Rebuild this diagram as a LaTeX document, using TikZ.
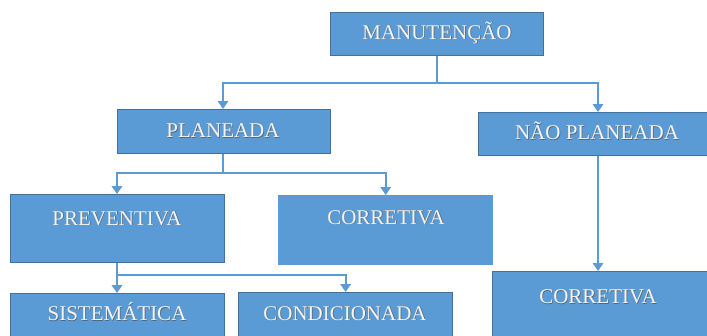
\documentclass[tikz,border=0pt]{standalone}
\usepackage{fontspec}
\setmainfont{Liberation Serif}
\usetikzlibrary{arrows.meta,calc}
\definecolor{boxfill}{HTML}{5B9BD5}
\definecolor{boxline}{HTML}{41719C}
\definecolor{txtshade}{HTML}{5A6470}
% white lettering with a faint dark offset shadow
\newcommand\embossed[1]{\makebox[0pt][l]{\raisebox{-0.7pt}{\hspace{0.7pt}\textcolor{txtshade}{#1}}}\textcolor{white!92!gray}{#1}}
\begin{document}
\begin{tikzpicture}[x=1pt,y=1pt,
  box/.style={draw=boxline,line width=1.2pt,fill=boxfill,inner sep=0pt,anchor=north west},
  plainbox/.style={fill=boxfill,inner sep=0pt,anchor=north west},
  lbl/.style={inner sep=0pt,anchor=base,font=\fontsize{21}{23}\selectfont},
  link/.style={draw=boxfill,line width=1.8pt},
  arr/.style={link,-{Triangle[width=10.5pt,length=8pt]}}]
\useasboundingbox (0,0) rectangle (707,-335);
\clip (0,0) rectangle (707,-335);
% boxes
\node[box,minimum width=213pt,minimum height=43pt] (man) at (330,-12) {};
\node[box,minimum width=213pt,minimum height=44pt] (plan) at (117,-109) {};
\node[box,minimum width=240pt,minimum height=43pt] (nplan) at (478,-112) {};
\node[box,minimum width=214pt,minimum height=68pt] (prev) at (10,-194) {};
\node[plainbox,minimum width=215pt,minimum height=70pt] (corr) at (278,-195) {};
\node[box,minimum width=214pt,minimum height=50pt] (sist) at (10,-293) {};
\node[box,minimum width=214pt,minimum height=50pt] (cond) at (238,-292) {};
\node[box,minimum width=225pt,minimum height=70pt] (corr2) at (492,-271) {};
% labels (placed on their baselines)
\node[lbl] (tman) at (437,-39) {\embossed{MANUTENÇÃO}};
\node[lbl] (tplan) at (223,-137.5) {\embossed{PLANEADA}};
\node[lbl] (tnplan) at (597,-139.5) {\embossed{NÃO PLANEADA}};
\node[lbl] (tprev) at (117,-225) {\embossed{PREVENTIVA}};
\node[lbl] (tcorr) at (386,-224) {\embossed{CORRETIVA}};
\node[lbl] (tsist) at (117,-320.7) {\embossed{SISTEMÁTICA}};
\node[lbl] (tcond) at (345,-320) {\embossed{CONDICIONADA}};
\node[lbl] (tcorr2) at (598,-303.5) {\embossed{CORRETIVA}};
% junction points of the elbow connectors
\coordinate (j1) at (437,-83);
\coordinate (j2) at (223,-173);
\coordinate (j3) at (117,-275);
\coordinate (xr) at (598,0);
% connectors
\draw[link] (man.south -| j1) -- (j1);
\draw[arr] (j1) -| (plan.north -| j2);
\draw[arr] (j1) -| (nplan.north -| xr);
\draw[link] (plan.south -| j2) -- (j2);
\draw[arr] (j2) -| (prev.north -| j3);
\draw[arr] (j2) -| (corr.north);
\draw[link] (prev.south -| j3) -- (j3);
\draw[arr] (j3) -- (sist.north -| j3);
\draw[arr] (j3) -| (cond.north);
\draw[arr] (nplan.south -| xr) -- (corr2.north -| xr);
\end{tikzpicture}
\end{document}
